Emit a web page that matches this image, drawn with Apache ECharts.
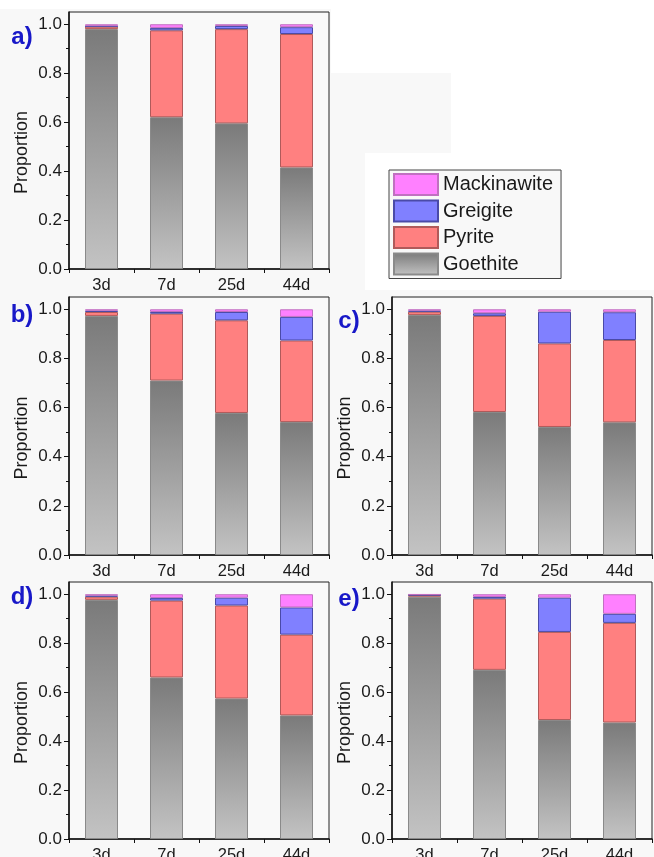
<!DOCTYPE html>
<html>
<head>
<meta charset="utf-8">
<script src="https://cdn.jsdelivr.net/npm/echarts@6/dist/echarts.min.js"></script>
<style>
  html, body { margin: 0; padding: 0; background: #f8f8f8; }
  #chart { width: 654px; height: 857px; }
</style>
</head>
<body>
<div id="chart"></div>
<script>
// Sampling times
const days = ['3d', '7d', '25d', '44d'];
const yTicks = [0, 0.2, 0.4, 0.6, 0.8, 1.0];
const yMinorTicks = [0.1, 0.3, 0.5, 0.7, 0.9];

// Mineral proportions, panel a)
const goethiteA = [0.980, 0.620, 0.595, 0.415];
const pyriteA = [0.010, 0.355, 0.385, 0.545];
const greigiteA = [0.002, 0.010, 0.013, 0.028];
const mackinawiteA = [0.008, 0.015, 0.007, 0.012];

// panel b)
const goethiteB = [0.973, 0.710, 0.578, 0.541];
const pyriteB = [0.016, 0.272, 0.377, 0.332];
const greigiteB = [0.005, 0.007, 0.034, 0.096];
const mackinawiteB = [0.006, 0.011, 0.011, 0.031];

// panel c)
const goethiteC = [0.977, 0.582, 0.521, 0.540];
const pyriteC = [0.013, 0.391, 0.340, 0.335];
const greigiteC = [0.004, 0.011, 0.129, 0.113];
const mackinawiteC = [0.006, 0.016, 0.010, 0.012];

// panel d)
const goethiteD = [0.977, 0.660, 0.574, 0.505];
const pyriteD = [0.013, 0.314, 0.380, 0.330];
const greigiteD = [0.004, 0.011, 0.032, 0.111];
const mackinawiteD = [0.006, 0.015, 0.014, 0.054];

// panel e)
const goethiteE = [0.990, 0.691, 0.486, 0.476];
const pyriteE = [0.006, 0.291, 0.360, 0.407];
const greigiteE = [0.002, 0.007, 0.140, 0.037];
const mackinawiteE = [0.002, 0.011, 0.014, 0.080];

const panelLetters = ['a)', 'b)', 'c)', 'd)', 'e)'];
const mineralNames = ['Goethite', 'Pyrite', 'Greigite', 'Mackinawite'];

const panels = [
  { letter: panelLetters[0], data: [goethiteA, pyriteA, greigiteA, mackinawiteA] },
  { letter: panelLetters[1], data: [goethiteB, pyriteB, greigiteB, mackinawiteB] },
  { letter: panelLetters[2], data: [goethiteC, pyriteC, greigiteC, mackinawiteC] },
  { letter: panelLetters[3], data: [goethiteD, pyriteD, greigiteD, mackinawiteD] },
  { letter: panelLetters[4], data: [goethiteE, pyriteE, greigiteE, mackinawiteE] }
];

// Plot rectangles and letter positions
const grids = [
  { left: 69, top: 12, width: 260, height: 257 },
  { left: 69, top: 297, width: 260, height: 258 },
  { left: 392, top: 297, width: 260, height: 258 },
  { left: 69, top: 582, width: 260, height: 257 },
  { left: 392, top: 582, width: 260, height: 257 }
];
const letterPos = [[22, 37], [22, 315], [349, 321], [22, 597], [349, 599]];

const FONT = "'Liberation Sans', Arial, sans-serif";

const goethiteFill = new echarts.graphic.LinearGradient(0, 0, 0, 1, [
  { offset: 0, color: '#7a7a7a' },
  { offset: 1, color: '#c3c3c3' }
]);
const styles = {
  Goethite: { color: goethiteFill, borderColor: '#8a8a8a', borderWidth: 1 },
  Pyrite: { color: '#ff8080', borderColor: '#b05a5a', borderWidth: 1 },
  Greigite: { color: '#8080ff', borderColor: '#4a4aa8', borderWidth: 1 },
  Mackinawite: { color: '#ff80ff', borderColor: '#c070c0', borderWidth: 1 }
};

const chart = echarts.init(document.getElementById('chart'), null, { renderer: 'canvas' });

const gridOpts = [], xAxes = [], yAxes = [], series = [];
panels.forEach((p, i) => {
  gridOpts.push(Object.assign({
    show: true, borderColor: '#222', borderWidth: 1, backgroundColor: '#f9f9f9',
    containLabel: false, outerBoundsMode: 'none'
  }, grids[i]));

  xAxes.push({
    type: 'category', gridIndex: i, data: days, boundaryGap: true,
    axisLine: { lineStyle: { color: '#111', width: 1.5 } },
    axisTick: { show: true, length: 4, inside: false, lineStyle: { color: '#111', width: 1 } },
    axisLabel: { color: '#1a1a1a', fontSize: 16.5, fontFamily: FONT, margin: 8 },
    splitLine: { show: false }
  });

  // main value axis
  yAxes.push({
    type: 'value', gridIndex: i, min: 0, max: 1.05, interval: 0.2,
    name: 'Proportion', nameLocation: 'middle', nameGap: 38,
    nameTextStyle: { color: '#1a1a1a', fontSize: 18, fontFamily: FONT, padding: [0, 24, 0, 0] },
    axisLine: { show: true, lineStyle: { color: '#111', width: 1.5 } },
    axisTick: { show: true, length: 5, customValues: yTicks, lineStyle: { color: '#111', width: 1 } },
    axisLabel: {
      color: '#1a1a1a', fontSize: 17, fontFamily: FONT, margin: 7,
      customValues: yTicks, formatter: v => v.toFixed(1)
    },
    splitLine: { show: false }
  });
  // minor ticks
  yAxes.push({
    type: 'value', gridIndex: i, min: 0, max: 1.05, position: 'left', offset: 0,
    axisLine: { show: false },
    axisTick: { show: true, length: 3, customValues: yMinorTicks, lineStyle: { color: '#111', width: 1 } },
    axisLabel: { show: false },
    splitLine: { show: false }
  });

  mineralNames.forEach((name, k) => {
    series.push({
      type: 'bar', name: name, stack: 'panel' + i,
      xAxisIndex: i, yAxisIndex: 2 * i,
      barWidth: 33,
      itemStyle: styles[name],
      emphasis: { disabled: true },
      data: p.data[k]
    });
  });
});

const graphic = [
  // white margins of the figure canvas
  { type: 'rect', z: -100, silent: true, shape: { x: 0, y: 0, width: 654, height: 9 }, style: { fill: '#ffffff' } },
  { type: 'rect', z: -100, silent: true, shape: { x: 331, y: 0, width: 323, height: 290 }, style: { fill: '#ffffff' } },
  { type: 'rect', z: -99, silent: true, shape: { x: 331, y: 73, width: 120, height: 80 }, style: { fill: '#f8f8f8' } },
  { type: 'rect', z: -99, silent: true, shape: { x: 331, y: 153, width: 34, height: 137 }, style: { fill: '#f8f8f8' } }
];
panels.forEach((p, i) => {
  graphic.push({
    type: 'text', z: 100, x: letterPos[i][0], y: letterPos[i][1],
    style: {
      text: p.letter, fill: '#1818c8', fontSize: 24, fontWeight: 'bold', fontFamily: FONT,
      align: 'center', verticalAlign: 'middle'
    }
  });
});

chart.setOption({
  backgroundColor: '#f8f8f8',
  animation: false,
  grid: gridOpts,
  xAxis: xAxes,
  yAxis: yAxes,
  series: series,
  legend: {
    data: ['Mackinawite', 'Greigite', 'Pyrite', 'Goethite'],
    orient: 'vertical', left: 389, top: 170,
    padding: [3, 8, 3, 4], itemGap: 3.5,
    itemWidth: 44, itemHeight: 21,
    icon: 'rect',
    backgroundColor: '#f8f8f8', borderColor: '#444', borderWidth: 1,
    textStyle: { color: '#1a1a1a', fontSize: 20, fontFamily: FONT, lineHeight: 21 },
    selectedMode: false
  },
  graphic: graphic
});
</script>
</body>
</html>
